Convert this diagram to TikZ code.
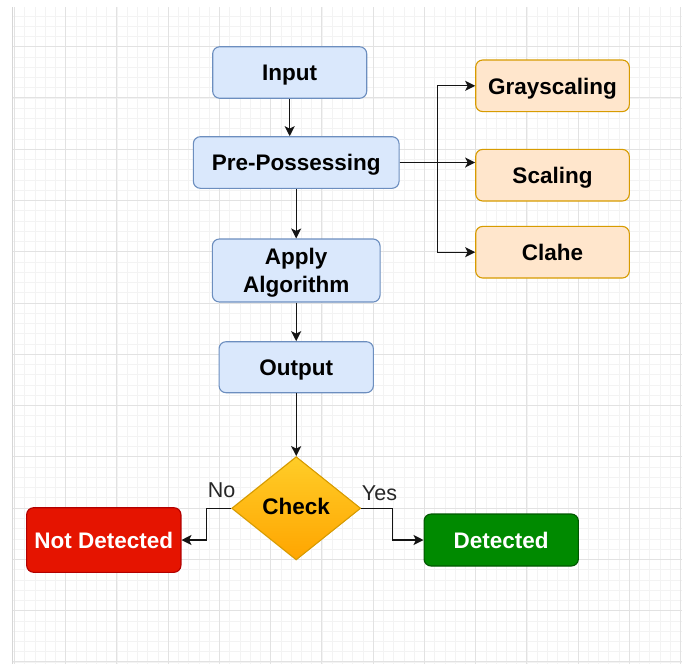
\documentclass[tikz,border=0pt]{standalone}
\usepackage{fontspec}
\setmainfont{Liberation Sans}
\usetikzlibrary{shapes.geometric,arrows.meta,calc}

\definecolor{gridminor}{HTML}{F3F3F3}
\definecolor{gridmajor}{HTML}{E2E2E2}
\definecolor{gridedge}{HTML}{D6D6D6}
\definecolor{blueFill}{HTML}{DAE8FC}
\definecolor{blueDraw}{HTML}{6C8EBF}
\definecolor{orangeFill}{HTML}{FFE6CC}
\definecolor{orangeDraw}{HTML}{D79B00}
\definecolor{goldTop}{HTML}{FFCD28}
\definecolor{goldBottom}{HTML}{FFA500}
\definecolor{redFill}{HTML}{E51400}
\definecolor{redDraw}{HTML}{B20000}
\definecolor{greenFill}{HTML}{008A00}
\definecolor{greenDraw}{HTML}{005700}
\definecolor{lineInk}{HTML}{141414}

\tikzset{
  boxbase/.style={rounded corners=7pt, line width=1.1pt, inner sep=0pt,
    align=center, font=\fontsize{22.5}{27.5}\selectfont\bfseries},
  oneline/.style={text height=16.5pt, text depth=0pt},
  bluebox/.style={boxbase, draw=blueDraw, fill=blueFill},
  orangebox/.style={boxbase, oneline, draw=orangeDraw, fill=orangeFill,
    minimum width=153.6pt, minimum height=51.6pt},
  redbox/.style={boxbase, oneline, draw=redDraw, fill=redFill, text=white},
  greenbox/.style={boxbase, oneline, draw=greenDraw, fill=greenFill, text=white},
  decision/.style={diamond, draw=orangeDraw, line width=1.1pt, inner sep=0pt,
    top color=goldTop, bottom color=goldBottom,
    font=\fontsize{22.5}{27.5}\selectfont\bfseries},
  conn/.style={draw=lineInk, line width=1.3pt,
    -{Stealth[length=10pt, width=10pt, inset=2.5pt]}},
  edgelabel/.style={inner sep=0pt, font=\fontsize{21.5}{24}\selectfont, text=black!85}
}

\begin{document}
\begin{tikzpicture}[x=1pt, y=-1pt]
\useasboundingbox (0,0) rectangle (682,664);
\fill[white] (0,0) rectangle (682,664);

% background grid: minor lines, then major lines every fifth
\begin{scope}
  \clip (12.5,7) rectangle (682,664);
  \foreach \k in {0,...,65}
    \draw[gridminor, line width=0.8pt] ({14.5+10.248*\k},7) -- ({14.5+10.248*\k},664);
  \foreach \k in {-4,...,60}
    \draw[gridminor, line width=0.8pt] (12.5,{46.7+10.254*\k}) -- (682,{46.7+10.254*\k});
  \foreach \k in {0,...,13}
    \draw[gridmajor, line width=1pt] ({14.5+51.24*\k},7) -- ({14.5+51.24*\k},664);
  \foreach \k in {-1,...,12}
    \draw[gridmajor, line width=1pt] (12.5,{46.7+51.27*\k}) -- (682,{46.7+51.27*\k});
\end{scope}
\draw[gridedge, line width=1.6pt] (12.5,7) -- (12.5,664);

% main pipeline
\node[bluebox, oneline, minimum width=154pt, minimum height=51.5pt] (input) at (289.7,72.5) {Input};
\node[bluebox, oneline, minimum width=205.7pt, minimum height=51.6pt] (pre) at (296.2,162.5) {Pre-Possessing};
\node[bluebox, text depth=0pt, minimum width=167.7pt, minimum height=63pt] (apply) at (296.2,270.5) {Apply\\Algorithm};
\node[bluebox, oneline, minimum width=154.3pt, minimum height=51pt] (output) at (296.2,367.2) {Output};
\node[decision, minimum width=129pt, minimum height=103.3pt] (check) at (296.2,508.3) {\raisebox{3pt}{Check}};

% preprocessing steps
\node[orangebox] (gray) at (552.5,85.8) {Grayscaling};
\node[orangebox] (scal) at (552.5,175.2) {Scaling};
\node[orangebox] (clahe) at (552.5,252.2) {Clahe};

% outcomes
\node[redbox, minimum width=154.3pt, minimum height=64.6pt] (nd) at (103.8,540) {Not Detected};
\node[greenbox, minimum width=154.3pt, minimum height=52pt] (det) at (501.2,540) {Detected};

% connectors
\draw[conn] (input.south) -- (input.south |- pre.north);
\draw[conn] (pre.south) -- (apply.north);
\draw[conn] (apply.south) -- (output.north);
\draw[conn] (output.south) -- (check.north);

\coordinate (fork) at (437.3,162.5);
\draw[conn] (pre.east) -- (pre.east -| scal.west);
\draw[conn] (pre.east) -- (fork) |- (gray.west);
\draw[conn] (fork) |- (clahe.west);

\draw[conn] (check.west) -- ++(-25,0) |- (nd.east);
\draw[conn] (check.east) -- ++(31,0) |- (det.west);

\node[edgelabel] (nolab) at (221.7,490.5) {No};
\node[edgelabel] (yeslab) at (379.5,493.5) {Yes};
\end{tikzpicture}
\end{document}
